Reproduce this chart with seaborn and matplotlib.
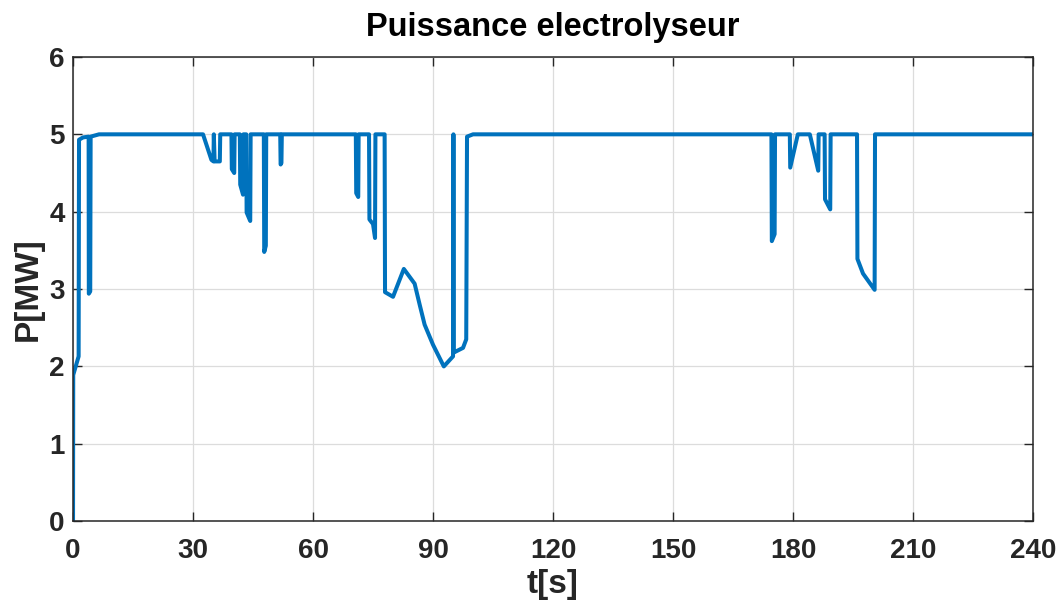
import matplotlib
matplotlib.use("Agg")
import matplotlib.pyplot as plt
import seaborn as sns
import pandas as pd

# Electrolyser power profile (time in s, power in MW)
t_s = [0.0, 0.05, 1.4, 1.5, 2.5, 3.9, 3.95, 4.3, 4.4, 6.5,
       32.5, 34.6, 35.1, 35.2, 35.4, 36.7, 36.8,
       39.6, 39.7, 40.3, 40.4,
       41.7, 41.8, 42.5, 42.6,
       43.3, 43.4, 44.3, 44.4,
       47.7, 47.8, 48.2, 48.3,
       51.8, 51.9, 52.1, 52.2,
       70.7, 70.8, 71.3, 71.4,
       74.0, 74.1, 75.0, 75.5, 75.6,
       77.9, 78.0, 80.0, 82.7, 85.4, 86.7, 87.9, 90.0, 92.7, 95.0, 95.1, 95.2,
       97.5, 98.3, 98.5, 100.0,
       174.6, 174.7, 175.4, 175.5,
       179.2, 179.3, 181.2,
       184.2, 186.3, 186.4,
       187.9, 188.0, 189.3, 189.4,
       196.0, 196.1, 197.5, 200.4, 200.5, 240.0]
p_mw = [0.0, 1.89, 2.13, 4.93, 4.96, 4.97, 2.94, 2.97, 4.97, 5.0,
        5.0, 4.67, 4.65, 5.0, 4.65, 4.65, 5.0,
        5.0, 4.55, 4.5, 5.0,
        5.0, 4.35, 4.22, 5.0,
        5.0, 3.99, 3.88, 5.0,
        5.0, 3.48, 3.56, 5.0,
        5.0, 4.61, 4.63, 5.0,
        5.0, 4.24, 4.19, 5.0,
        5.0, 3.9, 3.84, 3.66, 5.0,
        5.0, 2.96, 2.9, 3.26, 3.07, 2.79, 2.54, 2.28, 2.0, 2.13, 5.0, 2.18,
        2.24, 2.35, 4.97, 5.0,
        5.0, 3.62, 3.71, 5.0,
        5.0, 4.57, 5.0,
        5.0, 4.53, 5.0,
        5.0, 4.16, 4.03, 5.0,
        5.0, 3.39, 3.2, 2.99, 5.0, 5.0]

x_ticks = [0, 30, 60, 90, 120, 150, 180, 210, 240]
y_ticks = [0, 1, 2, 3, 4, 5, 6]

sns.set_theme(style="whitegrid")
plt.rcParams["font.family"] = ["Liberation Sans", "DejaVu Sans"]
plt.rcParams["font.weight"] = "bold"

df = pd.DataFrame({"t": t_s, "P": p_mw})

fig = plt.figure(figsize=(10.63, 6.06), dpi=100)
ax = fig.add_axes([0.0687, 0.140, 0.9031, 0.766])

sns.lineplot(data=df, x="t", y="P", ax=ax, estimator=None, sort=False,
             color="#0072BD", linewidth=2.9)

ax.set_xlim(0, 240)
ax.set_ylim(0, 6)
ax.set_xticks(x_ticks)
ax.set_yticks(y_ticks)
ax.set_xticklabels([str(v) for v in x_ticks], fontsize=20, fontweight="bold", color="#262626")
ax.set_yticklabels([str(v) for v in y_ticks], fontsize=20, fontweight="bold", color="#262626")

ax.grid(True, color="#dcdcdc", linewidth=0.9)
ax.set_facecolor("white")
for side in ["left", "right", "top", "bottom"]:
    ax.spines[side].set_visible(True)
    ax.spines[side].set_color("#262626")
    ax.spines[side].set_linewidth(1.1)

ax.tick_params(axis="both", which="major", direction="in", length=6.5, width=1.0,
               color="#262626", top=True, right=True, bottom=True, left=True,
               labeltop=False, labelright=False)
ax.tick_params(axis="x", pad=12)
ax.tick_params(axis="y", pad=6)

ax.set_xlabel("t[s]", fontsize=24, fontweight="bold", color="#262626", labelpad=4)
ax.set_ylabel("P[MW]", fontsize=24, fontweight="bold", color="#262626", labelpad=4)
ax.set_title("Puissance electrolyseur", fontsize=23.5, fontweight="bold", color="black", pad=15)

fig.savefig("out.png", dpi=100)
